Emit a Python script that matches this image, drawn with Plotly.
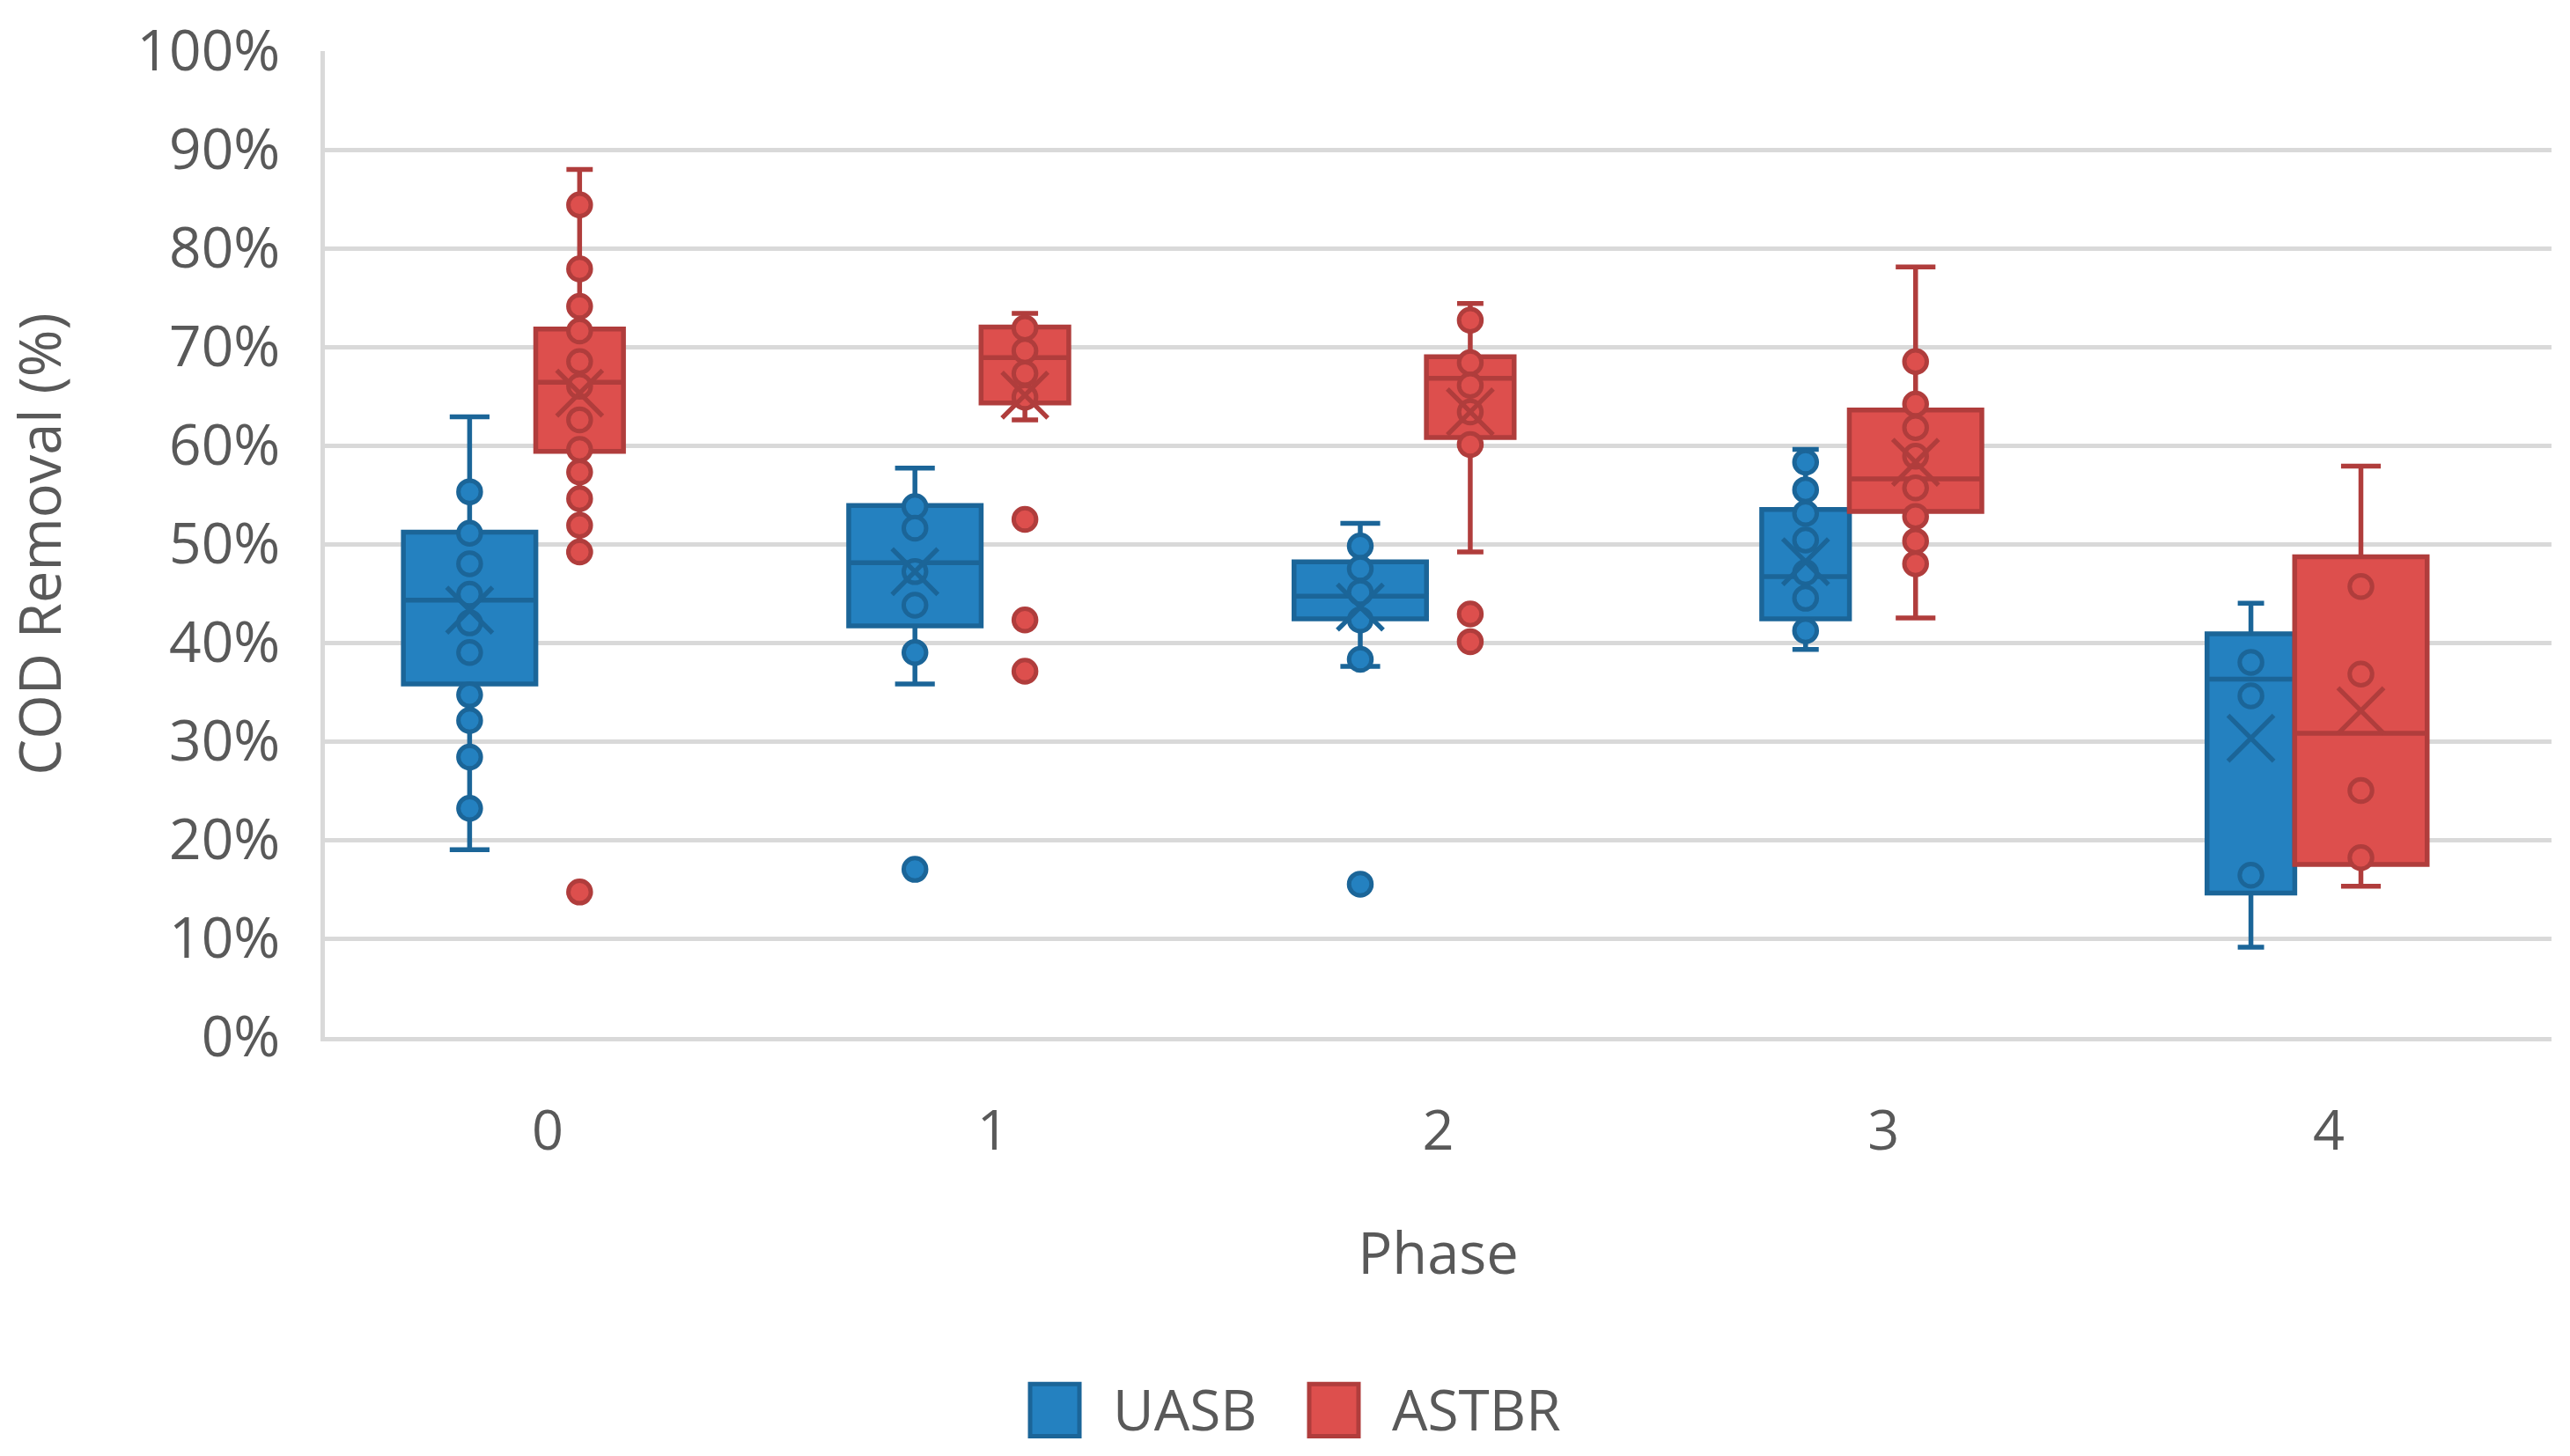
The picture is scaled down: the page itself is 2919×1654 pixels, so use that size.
import plotly.graph_objects as go

# ---------------- data (percent) ----------------
phases = [0, 1, 2, 3, 4]
phase_labels = ["0", "1", "2", "3", "4"]
y_tick_values = [0, 10, 20, 30, 40, 50, 60, 70, 80, 90, 100]

uasb_lower = [19.0, 35.8, 37.6, 39.3, 9.1]
uasb_q1 = [35.8, 41.7, 42.4, 42.4, 14.6]
uasb_median = [44.3, 48.1, 44.7, 46.7, 36.3]
uasb_q3 = [51.2, 53.9, 48.2, 53.5, 40.9]
uasb_upper = [62.9, 57.7, 52.1, 59.6, 44.0]
uasb_mean = [43.3, 47.2, 43.6, 48.2, 30.3]
uasb_points = [
    [55.3, 51.1, 48.0, 44.9, 42.0, 39.0, 34.7, 32.1, 28.4, 23.2],
    [53.8, 51.6, 47.2, 43.8, 39.0, 17.0],
    [49.8, 47.5, 45.1, 42.3, 38.3, 15.5],
    [58.3, 55.5, 53.1, 50.4, 47.1, 44.5, 41.2],
    [38.0, 34.6, 16.4],
]

astbr_lower = [49.2, 62.6, 49.2, 42.5, 15.3]
astbr_q1 = [59.4, 64.3, 60.8, 53.3, 17.5]
astbr_median = [66.4, 68.9, 66.8, 56.6, 30.8]
astbr_q3 = [71.8, 72.0, 69.0, 63.6, 48.7]
astbr_upper = [88.0, 73.4, 74.4, 78.1, 57.9]
astbr_mean = [65.3, 65.1, 63.4, 58.3, 33.1]
astbr_points = [
    [84.4, 77.9, 74.1, 71.6, 68.5, 66.0, 62.6, 59.6, 57.3, 54.6, 51.9, 49.2, 14.7],
    [71.9, 69.6, 67.3, 64.9, 52.5, 42.3, 37.1],
    [72.7, 68.4, 66.1, 63.4, 60.1, 42.9, 40.1],
    [68.5, 64.2, 61.8, 58.9, 55.7, 52.8, 50.3, 48.0],
    [45.7, 36.8, 25.0, 18.2],
]

# ---------------- style ----------------
W, H = 2919, 1654
ML, MR, MT, MB = 369, 21, 47, 476
FONT = "Open Sans"
TXT = "#595959"
GRID = "#D9D9D9"
WIDE, NARROW = 0.2975, 0.197

series = [
    dict(name="UASB", fill="#2481C0", line="#1B6598", offset=-0.175,
         widths=[WIDE, WIDE, WIDE, NARROW, NARROW],
         lower=uasb_lower, q1=uasb_q1, median=uasb_median, q3=uasb_q3,
         upper=uasb_upper, mean=uasb_mean, points=uasb_points),
    dict(name="ASTBR", fill="#DD4F4D", line="#B03D3C", offset=0.072,
         widths=[NARROW, NARROW, NARROW, WIDE, WIDE],
         lower=astbr_lower, q1=astbr_q1, median=astbr_median, q3=astbr_q3,
         upper=astbr_upper, mean=astbr_mean, points=astbr_points),
]

fig = go.Figure()

# boxes
for s in series:
    for i, p in enumerate(phases):
        fig.add_trace(go.Box(
            x=[p + s["offset"]], q1=[s["q1"][i]], median=[s["median"][i]],
            q3=[s["q3"][i]], lowerfence=[s["lower"][i]], upperfence=[s["upper"][i]],
            orientation="v", width=s["widths"][i], whiskerwidth=0.30,
            boxpoints=False, fillcolor=s["fill"],
            line=dict(color=s["line"], width=5.5),
            showlegend=False, hoverinfo="skip",
        ))

# inner points / outliers and means
for s in series:
    px, py, mx = [], [], []
    for i, p in enumerate(phases):
        for v in s["points"][i]:
            px.append(p + s["offset"])
            py.append(v)
        mx.append(p + s["offset"])
    fig.add_trace(go.Scatter(
        x=px, y=py, mode="markers", showlegend=False, hoverinfo="skip",
        marker=dict(symbol="circle", size=25.5, color=s["fill"],
                    line=dict(color=s["line"], width=5)),
    ))
    fig.add_trace(go.Scatter(
        x=mx, y=s["mean"], mode="markers", showlegend=False, hoverinfo="skip",
        marker=dict(symbol="x-thin", size=52, color=s["line"],
                    line=dict(color=s["line"], width=5.3)),
    ))

# custom legend (pixel layout converted to paper coords)
PW = W - ML - MR
PH = H - MT - MB


def px2x(v):
    return (v - ML) / PW


def px2y(v):
    return (H - MB - v) / PH


legend_items = [(1170, 1262), (1487, 1579)]
for s, (sx, tx) in zip(series, legend_items):
    fig.add_shape(type="rect", xref="paper", yref="paper",
                  x0=px2x(sx), x1=px2x(sx + 56), y0=px2y(1576), y1=px2y(1636),
                  fillcolor=s["fill"], line=dict(color=s["line"], width=5))
    fig.add_annotation(xref="paper", yref="paper", x=px2x(tx), y=px2y(1605),
                       text=s["name"], showarrow=False, xanchor="left",
                       yanchor="middle",
                       font=dict(family=FONT, size=64, color=TXT))

fig.update_layout(
    width=W, height=H,
    margin=dict(l=ML, r=MR, t=MT, b=MB),
    paper_bgcolor="white", plot_bgcolor="white",
    showlegend=False,
    font=dict(family=FONT, color=TXT, size=62),
)
fig.update_xaxes(
    range=[-0.5, 4.5], tickvals=phases, ticktext=phase_labels,
    showgrid=False, zeroline=False,
    showline=True, linecolor=GRID, linewidth=5,
    ticks="outside", ticklen=47, tickcolor="rgba(0,0,0,0)",
    tickfont=dict(family=FONT, size=63, color=TXT),
    title=dict(text="Phase", font=dict(family=FONT, size=65, color=TXT), standoff=80),
)
fig.update_yaxes(
    range=[0, 100], tickvals=y_tick_values,
    ticktext=[f"{v}%" for v in y_tick_values],
    showgrid=True, gridcolor=GRID, gridwidth=5, zeroline=False,
    showline=True, linecolor=GRID, linewidth=5,
    ticks="outside", ticklen=33, tickcolor="rgba(0,0,0,0)",
    ticklabeloverflow="allow",
    tickfont=dict(family=FONT, size=64, color=TXT),
    title=dict(text="COD Removal (%)", font=dict(family=FONT, size=65, color=TXT), standoff=67),
)

fig.write_html("out.html",
               config={"displayModeBar": False},
               post_script="document.body.style.margin='0';document.body.style.overflow='hidden';")
